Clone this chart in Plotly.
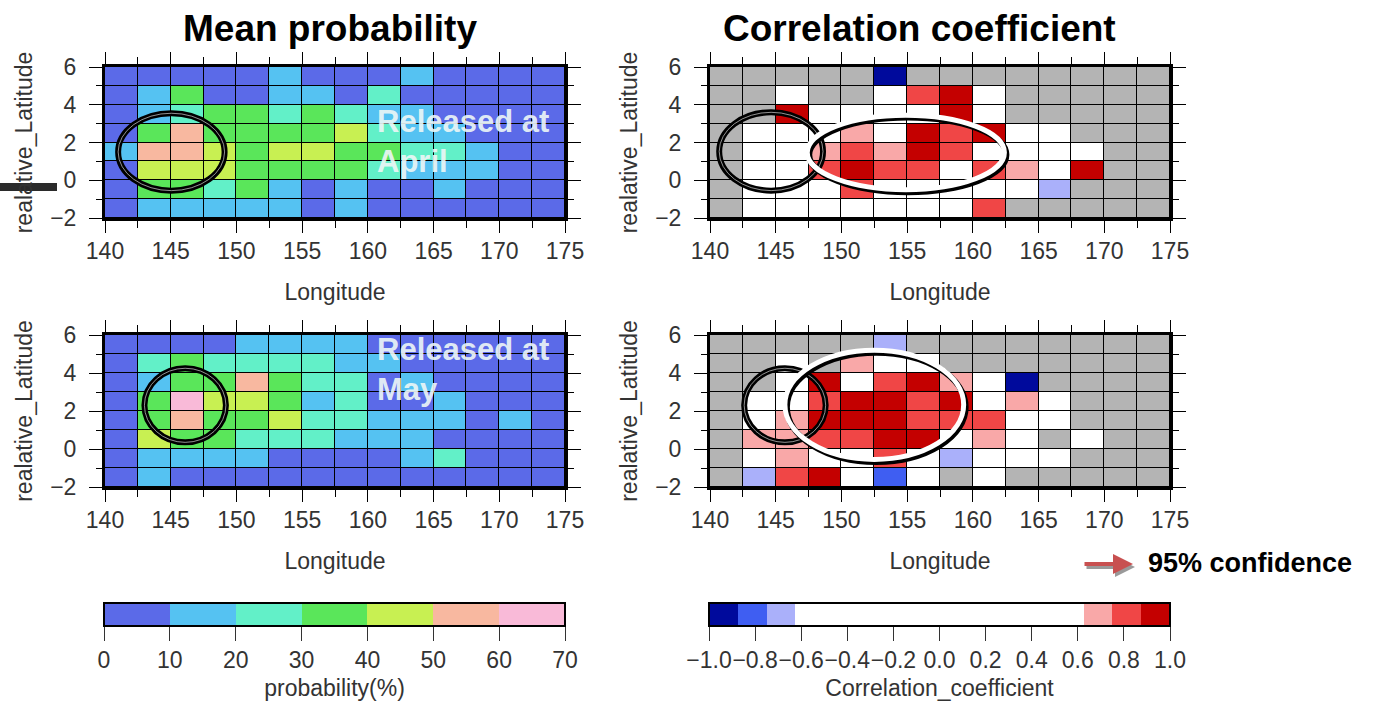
import plotly.graph_objects as go

W, H = 1373, 704

# ---------------- data (rows listed from top latitude band 5..6 down to -2..-1) ----------------
lon_edges = [140, 142.5, 145, 147.5, 150, 152.5, 155, 157.5, 160, 162.5, 165, 167.5, 170, 172.5, 175]
lat_edges = [-2, -1, 0, 1, 2, 3, 4, 5, 6]

prob_april = [
    [5, 6, 7, 8, 8, 14, 9, 7, 6, 13, 5, 4, 3, 3],
    [6, 15, 33, 9, 8, 16, 14, 8, 22, 8, 6, 5, 4, 3],
    [8, 16, 23, 34, 33, 25, 35, 24, 17, 14, 8, 6, 5, 4],
    [8, 34, 55, 36, 37, 35, 36, 44, 24, 16, 12, 7, 6, 5],
    [15, 56, 57, 42, 36, 44, 43, 33, 31, 24, 22, 16, 7, 5],
    [9, 42, 46, 43, 34, 36, 35, 33, 25, 16, 14, 13, 7, 5],
    [8, 32, 33, 25, 33, 16, 9, 15, 8, 8, 14, 7, 6, 4],
    [7, 15, 16, 14, 15, 14, 8, 13, 7, 6, 6, 5, 5, 4],
]
prob_may = [
    [5, 6, 7, 8, 15, 18, 14, 14, 8, 6, 5, 4, 4, 3],
    [6, 25, 33, 24, 24, 25, 23, 16, 14, 8, 6, 5, 4, 3],
    [7, 17, 34, 35, 55, 35, 24, 23, 8, 15, 7, 6, 5, 4],
    [8, 35, 64, 44, 43, 35, 16, 22, 8, 7, 15, 6, 5, 4],
    [8, 36, 56, 36, 36, 44, 26, 24, 16, 15, 14, 7, 16, 5],
    [7, 43, 34, 36, 25, 24, 24, 16, 17, 15, 8, 7, 6, 5],
    [6, 15, 16, 14, 15, 8, 7, 8, 7, 14, 23, 6, 5, 4],
    [5, 14, 7, 6, 6, 6, 5, 5, 5, 5, 5, 4, 4, 3],
]
N = None
corr_april = [
    [N, N, N, N, N, -0.95, N, N, N, N, N, N, N, N],
    [N, N, 0.2, N, N, 0.3, 0.8, 0.93, 0.4, N, N, N, N, N],
    [N, N, 0.92, 0.3, 0.2, 0.1, 0.4, 0.94, 0.5, N, N, N, N, N],
    [N, 0.1, 0.2, 0.3, 0.7, 0.4, 0.93, 0.8, 0.92, 0.3, 0.2, N, N, N],
    [N, 0.2, 0.3, 0.7, 0.82, 0.72, 0.95, 0.8, 0.5, 0.3, 0.2, 0.1, N, N],
    [N, 0.1, 0.2, 0.8, 0.92, 0.82, 0.83, 0.5, 0.8, 0.7, 0.3, 0.93, N, N],
    [N, 0.0, 0.1, 0.3, 0.82, 0.4, 0.3, 0.2, 0.4, 0.2, -0.7, N, N, N],
    [N, 0.1, 0.2, 0.1, 0.3, 0.2, 0.1, 0.3, 0.81, N, N, N, N, N],
]
corr_may = [
    [N, N, N, N, N, -0.7, N, N, N, N, N, N, N, N],
    [N, N, 0.2, N, 0.7, 0.3, 0.2, N, N, N, N, N, N, N],
    [N, N, 0.3, 0.93, 0.3, 0.8, 0.93, 0.7, 0.3, -0.95, N, N, N, N],
    [N, 0.1, 0.2, 0.82, 0.95, 0.94, 0.8, 0.92, 0.4, 0.7, 0.2, N, N, N],
    [N, 0.2, 0.7, 0.93, 0.95, 0.96, 0.8, 0.82, 0.8, 0.3, 0.2, N, N, N],
    [N, 0.7, 0.7, 0.82, 0.8, 0.93, 0.92, 0.4, 0.7, 0.3, N, 0.2, N, N],
    [N, 0.1, 0.7, 0.2, 0.3, 0.81, 0.3, -0.7, 0.2, 0.1, 0.1, N, N, N],
    [N, -0.72, 0.82, 0.93, 0.2, -0.82, 0.1, N, 0.2, N, N, N, N, N],
]

prob_ticks = [0, 10, 20, 30, 40, 50, 60, 70]
corr_ticks = [-1.0, -0.8, -0.6, -0.4, -0.2, 0.0, 0.2, 0.4, 0.6, 0.8, 1.0]
lon_ticks = [140, 145, 150, 155, 160, 165, 170, 175]
lat_ticks = [-2, 0, 2, 4, 6]

# ---------------- styling ----------------
prob_colors = ['#5b6ae8', '#55c2f2', '#62f0c8', '#5ae65a', '#c8f052', '#f8b8a0', '#f9bad8']
corr_colors = ['#000a9c', '#3f5ef2', '#aab0fa'] + ['#ffffff'] * 10 + ['#f9a8a8', '#f04646', '#c40000']
GRAY = '#b4b4b4'
FONT = 'Liberation Sans, Arial, sans-serif'


def stepped(colors):
    n = len(colors)
    scale = []
    for i, c in enumerate(colors):
        scale.append([i / n, c])
        scale.append([(i + 1) / n, c])
    return scale


def px_x(p):
    return p / W


def px_y(p):
    return 1 - p / H


fig = go.Figure()

panels = [
    (prob_april, 'x', 'y', 'coloraxis'),
    (corr_april, 'x2', 'y2', 'coloraxis2'),
    (prob_may, 'x3', 'y3', 'coloraxis'),
    (corr_may, 'x4', 'y4', 'coloraxis2'),
]
for z_top, xa, ya, ca in panels:
    z = z_top[::-1]  # bottom row first
    nan_mask = [[1 if v is None else None for v in row] for row in z]
    fig.add_trace(go.Heatmap(z=nan_mask, x=lon_edges, y=lat_edges, xaxis=xa, yaxis=ya,
                             colorscale=[[0, GRAY], [1, GRAY]], showscale=False,
                             xgap=1, ygap=1, hoverinfo='skip'))
    fig.add_trace(go.Heatmap(z=z, x=lon_edges, y=lat_edges, xaxis=xa, yaxis=ya,
                             coloraxis=ca, xgap=1, ygap=1))

# panel pixel boxes (left, right, top, bottom)
boxes = {
    '': (105, 565, 67, 218),
    '2': (710, 1170, 67, 218),
    '3': (105, 565, 335, 487),
    '4': (710, 1170, 335, 487),
}

tickfont = dict(family=FONT, size=23, color='#333333')
for k, (l, r, t, b) in boxes.items():
    fig.layout['xaxis' + k] = dict(
        domain=[px_x(l), px_x(r)], anchor='y' + k, range=[140, 175], automargin=False,
        tickvals=lon_ticks, ticks='outside', ticklen=12, tickwidth=1.2, tickcolor='black',
        minor=dict(dtick=2.5, tick0=140, ticks='outside', ticklen=7, tickwidth=1.2, tickcolor='black'),
        showgrid=False, zeroline=False, showline=True, linewidth=3, linecolor='black', mirror='ticks',
        tickfont=tickfont, ticklabelstandoff=-2,
        title=dict(text='Longitude', font=dict(family=FONT, size=23, color='#333333'), standoff=22),
    )
    fig.layout['yaxis' + k] = dict(
        domain=[px_y(b), px_y(t)], anchor='x' + k, range=[-2, 6], automargin=False,
        tickvals=lat_ticks, ticks='outside', ticklen=13, tickwidth=1.2, tickcolor='black',
        minor=dict(dtick=1, tick0=-2, ticks='outside', ticklen=6, tickwidth=1.2, tickcolor='black'),
        showgrid=False, zeroline=False, showline=True, linewidth=3, linecolor='black', mirror='ticks',
        tickfont=tickfont, ticklabelstandoff=8,
        title=dict(text='realative_Latitude', font=dict(family=FONT, size=23, color='#333333'), standoff=12),
    )

cb_common = dict(orientation='h', xanchor='left', yanchor='top', xpad=0, ypad=0,
                 lenmode='pixels', len=461, thickness=23, outlinewidth=2, outlinecolor='black',
                 ticks='outside', ticklen=14, tickwidth=1.2, tickcolor='#333333',
                 tickfont=dict(family=FONT, size=23, color='#333333'), tickangle=0)
fig.layout.coloraxis = dict(
    colorscale=stepped(prob_colors), cmin=0, cmax=70,
    colorbar=dict(cb_common, x=px_x(104), y=px_y(603), tickvals=prob_ticks,
                  title=dict(text='probability(%)', side='bottom',
                             font=dict(family=FONT, size=23, color='#333333'))),
)
fig.layout.coloraxis2 = dict(
    colorscale=stepped(corr_colors), cmin=-1, cmax=1,
    colorbar=dict(cb_common, x=px_x(709), y=px_y(603), tickvals=corr_ticks, tickformat='.1f',
                  title=dict(text='Correlation_coefficient', side='bottom',
                             font=dict(family=FONT, size=23, color='#333333'))),
)

# ---------------- ellipses ----------------
def ring_black(xr, yr, x0, x1, y0, y1):
    fig.add_shape(type='circle', xref=xr, yref=yr, x0=x0, x1=x1, y0=y0, y1=y1,
                  line=dict(color='black', width=6), layer='above')
    fig.add_shape(type='circle', xref=xr, yref=yr, x0=x0, x1=x1, y0=y0, y1=y1,
                  line=dict(color='rgba(230,230,230,0.8)', width=0.8), layer='above')


def ring_white(xr, yr, x0, x1, y0, y1):
    fig.add_shape(type='circle', xref=xr, yref=yr, x0=x0 + 0.15, x1=x1 + 0.15, y0=y0 - 0.13, y1=y1 - 0.13,
                  line=dict(color='black', width=6), layer='above')
    fig.add_shape(type='circle', xref=xr, yref=yr, x0=x0, x1=x1, y0=y0, y1=y1,
                  line=dict(color='white', width=5), layer='above')


ring_black('x', 'y', 141.0, 149.1, -0.55, 3.55)
ring_black('x2', 'y2', 140.7, 148.6, -0.55, 3.6)
ring_white('x2', 'y2', 147.4, 162.4, -0.5, 3.45)
ring_black('x3', 'y3', 143.0, 149.2, 0.35, 4.25)
ring_black('x4', 'y4', 142.6, 148.8, 0.35, 4.25)
ring_white('x4', 'y4', 145.7, 159.3, -0.55, 5.2)

# stray dark bar at the left edge
fig.add_shape(type='line', xref='paper', yref='paper', x0=0, x1=px_x(57), y0=px_y(187), y1=px_y(187),
              line=dict(color='#2b2b2b', width=8))

# ---------------- annotations ----------------
ann_font_title = dict(family=FONT, size=37, color='black')
fig.add_annotation(text='<b>Mean probability</b>', x=px_x(330), y=px_y(28), xref='paper', yref='paper',
                   xanchor='center', yanchor='middle', showarrow=False, font=ann_font_title)
fig.add_annotation(text='<b>Correlation coefficient</b>', x=px_x(919), y=px_y(28), xref='paper', yref='paper',
                   xanchor='center', yanchor='middle', showarrow=False, font=ann_font_title)

rel_font = dict(family=FONT, size=31, color='rgba(236,246,246,0.93)')
fig.add_annotation(text='<b>Released at<br>April</b>', x=px_x(375), y=px_y(142), xref='paper', yref='paper',
                   xanchor='left', yanchor='middle', align='left', showarrow=False, font=rel_font)
fig.add_annotation(text='<b>Released at<br>May</b>', x=px_x(375), y=px_y(370), xref='paper', yref='paper',
                   xanchor='left', yanchor='middle', align='left', showarrow=False, font=rel_font)

# 95% confidence arrow (shadow + arrow)
fig.add_annotation(x=px_x(1135), y=px_y(567), xref='paper', yref='paper', ax=-50, ay=0, text='',
                   showarrow=True, arrowhead=2, arrowsize=1, arrowwidth=4, arrowcolor='#9a9a9a')
fig.add_annotation(x=px_x(1133), y=px_y(564), xref='paper', yref='paper', ax=-50, ay=0, text='',
                   showarrow=True, arrowhead=2, arrowsize=1, arrowwidth=4, arrowcolor='#c85050')
fig.add_annotation(text='<b>95% confidence</b>', x=px_x(1146), y=px_y(563), xref='paper', yref='paper',
                   xanchor='left', yanchor='middle', showarrow=False,
                   font=dict(family=FONT, size=27, color='black'))

fig.update_layout(width=W, height=H, margin=dict(l=0, r=0, t=0, b=0, autoexpand=False),
                  paper_bgcolor='white', plot_bgcolor='black', showlegend=False,
                  font=dict(family=FONT))

fig.write_html('out.html', config={'displayModeBar': False},
               post_script="document.body.style.margin='0px';document.body.style.overflow='hidden';")
